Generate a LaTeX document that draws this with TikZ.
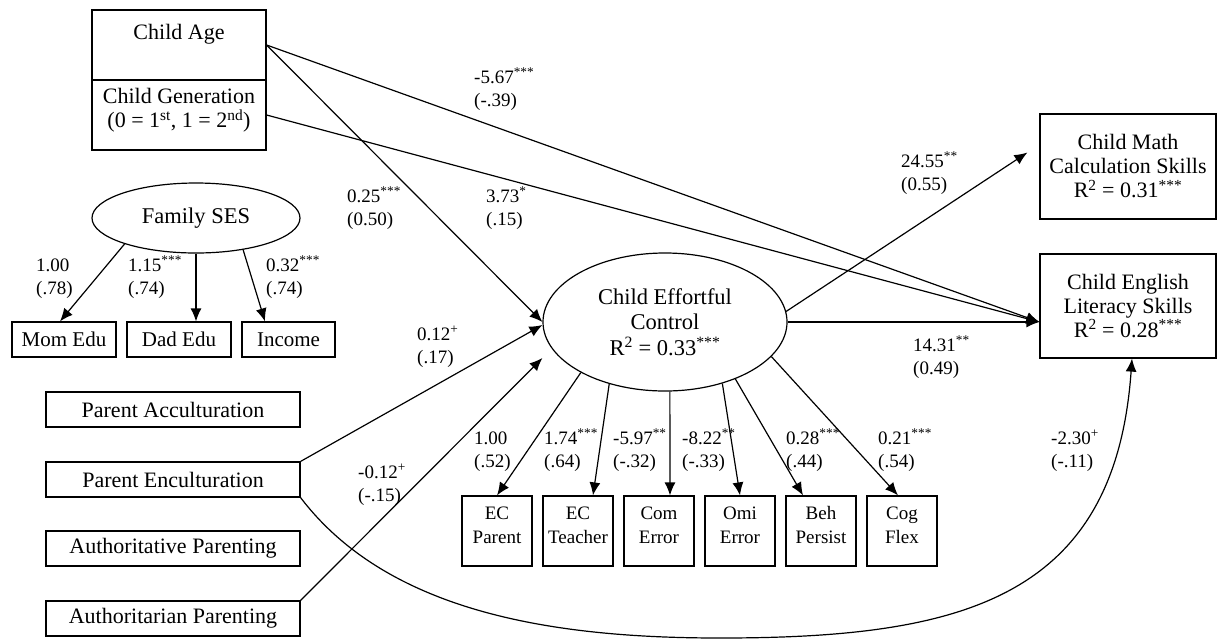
\documentclass[tikz,border=0pt]{standalone}
\usepackage{fontspec}
\setmainfont{Liberation Serif}
\usetikzlibrary{arrows.meta,shapes.geometric}
\begin{document}
\begin{tikzpicture}[x=1pt,y=-1pt,
  box/.style={draw,line width=1.2pt,inner sep=0pt,font=\fontsize{22}{24}\selectfont,align=center},
  ind/.style={draw,line width=1.2pt,inner sep=0pt,minimum width=70pt,minimum height=70pt,font=\fontsize{19}{24}\selectfont,align=center},
  lat/.style={draw,ellipse,line width=1.2pt,inner sep=0pt,font=\fontsize{22.5}{25.5}\selectfont,align=center},
  lbl/.style={anchor=base west,inner sep=0pt,font=\fontsize{19}{23}\selectfont,align=left},
  arr/.style={line width=1.2pt,-{Latex[length=13pt,width=11pt]}}]
\useasboundingbox (0,0) rectangle (1217,641);

% exogenous boxes
\node[box,minimum width=174pt,minimum height=70pt,text depth=27pt] (ca) at (179,45) {Child Age};
\node[box,minimum width=174pt,minimum height=70pt] (cg) at (179,115) {Child Generation\\(0 = 1\textsuperscript{st}, 1 = 2\textsuperscript{nd})\\[-10pt]~};

% Family SES
\node[lat,minimum width=208pt,minimum height=70pt] (fs) at (196,218) {Family SES};
\node[box,minimum width=104pt,minimum height=35pt,font=\fontsize{21}{24}\selectfont] (mom) at (64,339.5) {Mom Edu};
\node[box,minimum width=104pt,minimum height=35pt,font=\fontsize{21}{24}\selectfont] (dad) at (179,339.5) {Dad Edu};
\node[box,minimum width=93pt,minimum height=35pt,font=\fontsize{21}{24}\selectfont] (inc) at (288.5,339.5) {Income};

% parent boxes
\node[box,minimum width=254pt,minimum height=35pt] (pa) at (173,409.5) {Parent Acculturation};
\node[box,minimum width=254pt,minimum height=35pt] (pe) at (173,479.5) {Parent Enculturation};
\node[box,minimum width=254pt,minimum height=35pt] (ap) at (173,548.5) {Authoritative Parenting};
\node[box,minimum width=254pt,minimum height=35pt] (an) at (173,618.5) {Authoritarian Parenting};

% effortful control
\node[lat,minimum width=244pt,minimum height=138pt] (ec) at (665,322) {Child Effortful\\Control\\R\textsuperscript{2} = 0.33\textsuperscript{***}};

% indicators
\node[ind] (i1) at (497,531) {EC\\Parent\\[-12pt]~};
\node[ind] (i2) at (578,531) {EC\\Teacher\\[-12pt]~};
\node[ind] (i3) at (659,531) {Com\\Error\\[-12pt]~};
\node[ind] (i4) at (740,531) {Omi\\Error\\[-12pt]~};
\node[ind] (i5) at (821,531) {Beh\\Persist\\[-12pt]~};
\node[ind] (i6) at (902,531) {Cog\\Flex\\[-12pt]~};

% outcomes
\node[box,minimum width=176pt,minimum height=105pt] (math) at (1128,166.5) {Child Math\\Calculation Skills\\R\textsuperscript{2} = 0.31\textsuperscript{***}};
\node[box,minimum width=176pt,minimum height=104pt] (eng) at (1128,306) {Child English\\Literacy Skills\\R\textsuperscript{2} = 0.28\textsuperscript{***}};

% connectors
\draw[arr] (ca.east) -- ([yshift=-16pt]eng.west);
\draw[arr] (cg.east) -- ([yshift=-16pt]eng.west);
\draw[arr] (ca.east) -- (ec.west);
\draw[arr] (pe.north east) -- ([yshift=-3pt]ec.west);
\draw[arr] (an.north east) -- ([yshift=-36pt]ec.west);
\draw[arr] (ec.5) -- ([xshift=-12pt,yshift=14pt]math.west);
\draw[arr] (ec.east) -- ([yshift=-16pt]eng.west);
\draw[arr] (pe.south east) .. controls (390,615) and (560,638) .. (720,638) .. controls (960,638) and (1115,600) .. ([xshift=4pt]eng.south);

\draw[arr] (fs.200) -- ([xshift=-4pt]mom.north);
\draw[arr] (fs.south) -- ([xshift=17pt]dad.north);
\draw[arr] (fs.326) -- ([xshift=-23.5pt]inc.north);

\draw[arr] (ec.211) -- (i1.north);
\draw[arr] (ec.228.5) -- ([xshift=15pt]i2.north);
\draw[arr] (ec.274) -- ([xshift=11pt]i3.north);
\draw[arr] (ec.313.5) -- (i4.north);
\draw[arr] (ec.321.3) -- ([xshift=-18pt]i5.north);
\draw[arr] (ec.342.4) -- ([xshift=-4pt]i6.north);

% labels (anchor at baseline of the second line)
\node[lbl] (l1) at (474,106) {-5.67\textsuperscript{***}\\(-.39)};
\node[lbl] (l2) at (486,225) {3.73\textsuperscript{*}\\(.15)};
\node[lbl] (l3) at (347,225) {0.25\textsuperscript{***}\\(0.50)};
\node[lbl] (l4) at (417,363) {0.12\textsuperscript{+}\\(.17)};
\node[lbl] (l5) at (266,294) {0.32\textsuperscript{***}\\(.74)};
\node[lbl] (l6) at (36,294) {1.00\\(.78)};
\node[lbl] (l7) at (128,294) {1.15\textsuperscript{***}\\(.74)};
\node[lbl] (l8) at (358,501) {-0.12\textsuperscript{+}\\(-.15)};
\node[lbl] (l9) at (474,467) {1.00\\(.52)};
\node[lbl] (l10) at (544,467) {1.74\textsuperscript{***}\\(.64)};
\node[lbl] (l11) at (613,467) {-5.97\textsuperscript{**}\\(-.32)};
\node[lbl] (l12) at (682,467) {-8.22\textsuperscript{**}\\(-.33)};
\node[lbl] (l13) at (786,467) {0.28\textsuperscript{***}\\(.44)};
\node[lbl] (l14) at (878,467) {0.21\textsuperscript{***}\\(.54)};
\node[lbl] (l15) at (901,190) {24.55\textsuperscript{**}\\(0.55)};
\node[lbl] (l16) at (913,374) {14.31\textsuperscript{**}\\(0.49)};
\node[lbl] (l17) at (1051,467) {-2.30\textsuperscript{+}\\(-.11)};
\end{tikzpicture}
\end{document}
